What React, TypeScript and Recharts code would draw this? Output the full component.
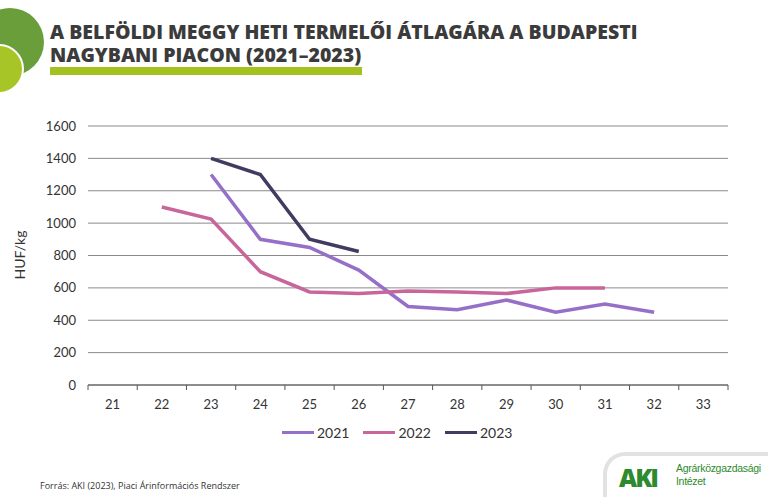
import React from 'react';
import { LineChart, Line, XAxis, YAxis, CartesianGrid } from 'recharts';

const weeks = [21, 22, 23, 24, 25, 26, 27, 28, 29, 30, 31, 32, 33];
const yTicks = [0, 200, 400, 600, 800, 1000, 1200, 1400, 1600];

const weeks2021 = [23, 24, 25, 26, 27, 28, 29, 30, 31, 32];
const price2021 = [1300, 900, 850, 710, 485, 465, 525, 450, 500, 450];

const weeks2022 = [22, 23, 24, 25, 26, 27, 28, 29, 30, 31];
const price2022 = [1100, 1025, 700, 575, 565, 580, 575, 565, 600, 600];

const weeks2023 = [23, 24, 25, 26];
const price2023 = [1400, 1300, 900, 825];

const series = [
  { name: '2021', color: '#9670c8', data: weeks2021.map((w, i) => ({ week: w, value: price2021[i] })) },
  { name: '2022', color: '#c8669c', data: weeks2022.map((w, i) => ({ week: w, value: price2022[i] })) },
  { name: '2023', color: '#403b60', data: weeks2023.map((w, i) => ({ week: w, value: price2023[i] })) },
];

const FONT = 'Lato, "Open Sans", sans-serif';
const PLOT_W = 640;
const STEP = PLOT_W / weeks.length;

const WeekTick = (props: any) => {
  const { x, y, payload, index } = props;
  const left = x - STEP / 2;
  const isLast = index === weeks.length - 1;
  return (
    <g>
      <line x1={left} x2={left} y1={y - 8} y2={y - 3} stroke="#555" />
      {isLast && <line x1={x + STEP / 2} x2={x + STEP / 2} y1={y - 8} y2={y - 3} stroke="#555" />}
      <text x={x} y={y + 16} textAnchor="middle" fill="#333" fontSize={13} fontFamily={FONT}>
        {payload.value}
      </text>
    </g>
  );
};

const titleStyle: React.CSSProperties = {
  position: 'absolute',
  left: 50,
  fontSize: 19.5,
  fontWeight: 800,
  color: '#3b3b3b',
  lineHeight: '20px',
  whiteSpace: 'nowrap',
  fontFamily: '"Open Sans", sans-serif',
};

export default function App() {
  return (
    <div style={{ position: 'absolute', left: 0, top: 0, width: 768, height: 497, background: '#fff', overflow: 'hidden', fontFamily: FONT }}>
      {/* corner circles */}
      <div style={{ position: 'absolute', left: -24, top: 8, width: 68, height: 68, borderRadius: '50%', background: '#6a9e3a' }} />
      <div style={{ position: 'absolute', left: -26, top: 44, width: 46, height: 46, borderRadius: '50%', background: '#a7c526', border: '2px solid #fff' }} />

      <div style={{ ...titleStyle, top: 22 }}>A BELFÖLDI MEGGY HETI TERMELŐI ÁTLAGÁRA A BUDAPESTI</div>
      <div style={{ ...titleStyle, top: 45 }}>NAGYBANI PIACON (2021–2023)</div>
      <div style={{ position: 'absolute', left: 50, top: 67, width: 312, height: 8, background: '#a3c21f' }} />

      <div style={{ position: 'absolute', left: 0, top: 0 }}>
        <LineChart width={768} height={497} margin={{ top: 126, right: 40, bottom: 82, left: 28 }}>
          <CartesianGrid horizontal vertical={false} stroke="#8a8a8a" />
          <XAxis
            dataKey="week"
            type="number"
            domain={[20.5, 33.5]}
            ticks={weeks}
            allowDuplicatedCategory={false}
            axisLine={{ stroke: '#555' }}
            tickLine={false}
            tick={<WeekTick />}
            height={30}
          />
          <YAxis
            domain={[0, 1600]}
            ticks={yTicks}
            axisLine={false}
            tickLine={false}
            width={60}
            tick={{ fill: '#333', fontSize: 13, fontFamily: FONT }}
            tickMargin={6}
          />
          {series.map((s) => (
            <Line
              key={s.name}
              data={s.data}
              dataKey="value"
              name={s.name}
              stroke={s.color}
              strokeWidth={3.5}
              dot={false}
              isAnimationActive={false}
            />
          ))}
        </LineChart>
      </div>

      <div style={{ position: 'absolute', left: 19, top: 255, transform: 'translate(-50%, -50%) rotate(-90deg)', fontSize: 14, color: '#333', whiteSpace: 'nowrap' }}>
        HUF/kg
      </div>

      {/* legend */}
      <div style={{ position: 'absolute', left: 282, top: 424, display: 'flex', alignItems: 'center', fontSize: 14, color: '#333' }}>
        {series.map((s) => (
          <div key={s.name} style={{ display: 'flex', alignItems: 'center', marginRight: 14 }}>
            <div style={{ width: 32, height: 3.5, background: s.color, marginRight: 3 }} />
            <span>{s.name}</span>
          </div>
        ))}
      </div>

      <div style={{ position: 'absolute', left: 40, top: 479, fontSize: 9, color: '#333', fontFamily: '"Open Sans", sans-serif' }}>
        Forrás: AKI (2023), Piaci Árinformációs Rendszer
      </div>

      {/* logo */}
      <div style={{ position: 'absolute', left: 603, top: 452, width: 200, height: 80, borderTop: '4px solid #e2e2e2', borderLeft: '4px solid #e2e2e2', borderTopLeftRadius: 22 }} />
      <div style={{ position: 'absolute', left: 619, top: 464, fontSize: 25, fontWeight: 900, color: '#2e8a2e', letterSpacing: -2, lineHeight: '26px', fontFamily: '"Open Sans", sans-serif' }}>
        AKI
      </div>
      <div style={{ position: 'absolute', left: 676, top: 462, fontSize: 10.5, color: '#2e8a2e', lineHeight: '13px', letterSpacing: -0.3, whiteSpace: 'nowrap', fontFamily: '"Liberation Sans", Arial, sans-serif' }}>
        Agrárközgazdasági<br />Intézet
      </div>
    </div>
  );
}
